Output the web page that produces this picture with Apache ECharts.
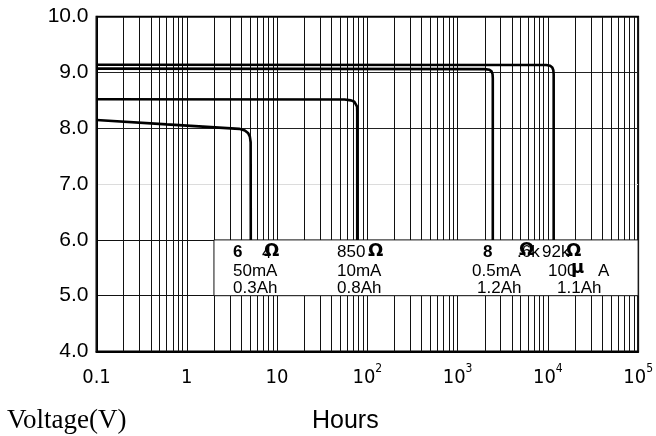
<!DOCTYPE html>
<html><head><meta charset="utf-8">
<script src="https://cdn.jsdelivr.net/npm/echarts@6/dist/echarts.min.js"></script>
<style>html,body{margin:0;padding:0;background:#fff}#c{width:656px;height:436px}</style>
</head><body><div id="c"></div>
<script>
// ---- data ----
const hours50mA  = [0.1, 0.6, 3.8, 4.4, 4.8, 5.0, 5.1, 5.12];
const volts50mA  = [8.15, 8.07, 7.99, 7.96, 7.91, 7.85, 7.75, 6.0];
const hours10mA  = [0.1, 56, 66, 72, 75.5, 77, 77.3, 77.3];
const volts10mA  = [8.52, 8.515, 8.50, 8.475, 8.44, 8.39, 8.3, 6.0];
const hours05mA  = [0.1, 2000, 2250, 2380, 2440, 2455, 2455];
const volts05mA  = [9.07, 9.06, 9.05, 9.02, 8.97, 8.9, 6.0];
const hours100uA = [0.1, 9600, 10600, 11200, 11500, 11600, 11600];
const volts100uA = [9.14, 9.135, 9.12, 9.09, 9.04, 8.97, 6.0];

const xTickBase = ['0.1', '1', '10', '10', '10', '10', '10'];
const xTickExp  = ['', '', '', '2', '3', '4', '5'];
const yTickLabels = ['4.0', '5.0', '6.0', '7.0', '8.0', '9.0', '10.0'];

const gridMantissas = [1, 2, 3, 4, 5, 6, 7, 8, 9];
const gridDecades = [0.1, 1, 10, 100, 1000, 10000];

// annotation table (as printed in the reference)
const resistanceRow = ['6', '4', 'Ω', '850', 'Ω', '8', '.6k', 'Ω', '92k', 'Ω'];
const currentRow = ['50mA', '10mA', '0.5mA', '100', 'μ', 'A'];
const capacityRow = ['0.3Ah', '0.8Ah', '1.2Ah', '1.1Ah'];

// ---- chart ----
const pair = (xs, ys) => xs.map((x, i) => [x, ys[i]]);
const gridValues = [];
gridDecades.forEach(d => gridMantissas.forEach(m => gridValues.push(m * d)));
gridValues.push(100000);

const SANS = '"Liberation Sans", Arial, sans-serif';
const NARROW = '"Liberation Sans Narrow", "Arial Narrow", "DejaVu Sans Condensed", sans-serif';

function curve(xs, ys) {
  return {
    type: 'line', data: pair(xs, ys), showSymbol: false, symbol: 'none', z: 10,
    lineStyle: { color: '#000', width: 2.6 }, silent: true, animation: false
  };
}

const chart = echarts.init(document.getElementById('c'), null, { renderer: 'canvas' });

function txt(x, y, text, font) {
  return { type: 'text', x: x, y: y, z: 100,
    style: { text: text, font: font, fill: '#000', align: 'left', verticalAlign: 'middle' } };
}
const F = '17px ' + SANS;
const FB = 'bold 18px "DejaVu Sans", ' + SANS;

const option = {
  animation: false,
  backgroundColor: '#fff',
  grid: { left: 96.5, right: 13.5, top: 16.7, bottom: 84.5, show: true,
          borderColor: '#000', borderWidth: 2, backgroundColor: 'transparent' },
  xAxis: {
    type: 'log', logBase: 10, min: 0.1, max: 100000,
    axisLine: { show: true, lineStyle: { color: '#000', width: 2 } },
    axisTick: { show: false },
    splitLine: { show: false },
    axisLabel: {
      margin: 11, color: '#000',
      formatter: function (v) {
        const i = Math.round(Math.log10(v)) + 1;
        return '{b|' + xTickBase[i] + '}' + (xTickExp[i] ? '{s|' + xTickExp[i] + '}' : '');
      },
      rich: {
        b: { fontSize: 20, fontFamily: NARROW, lineHeight: 30, color: '#000' },
        s: { fontSize: 12, fontFamily: NARROW, lineHeight: 6, verticalAlign: 'top', color: '#000' }
      }
    }
  },
  yAxis: {
    type: 'value', min: 4, max: 10, interval: 1,
    axisLine: { show: true, lineStyle: { color: '#000', width: 2 } },
    axisTick: { show: false },
    axisLabel: { margin: 8, color: '#000', fontSize: 21, fontFamily: SANS,
                 formatter: (v) => yTickLabels[Math.round(v - 4)] },
    splitLine: { show: true, lineStyle: { width: 1,
      color: ['#000', '#111', '#111', '#dcdcdc', '#222', '#222', '#000'] } }
  },
  series: [
    { type: 'line', data: [], silent: true, z: 1,
      markLine: { silent: true, symbol: 'none', animation: false, z: 1, label: { show: false },
        lineStyle: { color: '#111', width: 1, type: 'solid', opacity: 1 },
        emphasis: { disabled: true },
        data: gridValues.map(v => ({ xAxis: v })) } },
    { type: 'line', data: [], silent: true, z: 4,
      markArea: { silent: true, animation: false, z: 4,
        itemStyle: { color: '#fff', opacity: 1, borderColor: '#111', borderWidth: 1 },
        emphasis: { disabled: true },
        data: [[{ coord: [2, 6] }, { coord: [100000, 5] }]] } },
    curve(hours50mA, volts50mA),
    curve(hours10mA, volts10mA),
    curve(hours05mA, volts05mA),
    curve(hours100uA, volts100uA)
  ],
  graphic: [
    // row 1 (resistance, as printed)
    txt(233, 252, resistanceRow[0], 'bold 17px ' + SANS),
    txt(262, 253, resistanceRow[1], F),
    txt(264, 251, resistanceRow[2], FB),
    txt(337, 252, resistanceRow[3], F),
    txt(368, 251, resistanceRow[4], FB),
    txt(483, 252, resistanceRow[5], 'bold 17px ' + SANS),
    txt(517, 252, resistanceRow[6], F),
    txt(519, 250, resistanceRow[7], FB),
    txt(542, 252, resistanceRow[8], F),
    txt(566, 251, resistanceRow[9], FB),
    // row 2 (load current)
    txt(233, 271, currentRow[0], F),
    txt(337, 271, currentRow[1], F),
    txt(472, 271, currentRow[2], F),
    txt(548, 271, currentRow[3], F),
    txt(571, 268, currentRow[4], FB),
    txt(598, 271, currentRow[5], F),
    // row 3 (capacity)
    txt(233, 288, capacityRow[0], F),
    txt(337, 288, capacityRow[1], F),
    txt(477, 288, capacityRow[2], F),
    txt(557, 288, capacityRow[3], F),
    // axis titles
    txt(7, 421, 'Voltage(V)', '27px "Liberation Serif", "Times New Roman", serif'),
    txt(312, 421, 'Hours', '25px ' + SANS)
  ]
};
chart.setOption(option);
</script>
</body></html>
